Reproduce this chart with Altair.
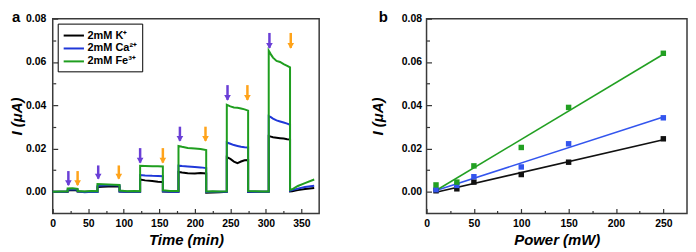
import altair as alt
import pandas as pd

FONT = "Liberation Sans"

# ---------------- Panel a : photocurrent vs time ----------------
time_min = [0, 10, 21, 21, 28, 35, 35, 45, 55, 63, 63, 70, 78, 86, 94, 94, 105, 115, 123,
            123, 130, 140, 148, 155, 155, 165, 177, 177, 182, 190, 200, 208, 216, 216, 225, 235, 245,
            245, 250, 255, 260, 265, 270, 275, 275, 285, 295, 304,
            304, 307, 310, 315, 320, 325, 330, 334, 334, 337, 345, 355, 368]
fe_a = [0.0000, 0.0002, 0.0003, 0.0016, 0.0017, 0.0014, 0.0004, 0.0002, 0.0004, 0.0003,
        0.0036, 0.0035, 0.0034, 0.0033, 0.0032, 0.0006, 0.0003, 0.0004, 0.0003,
        0.0120, 0.0119, 0.0118, 0.0118, 0.0117, 0.0007, 0.0004, 0.0004,
        0.0212, 0.0208, 0.0203, 0.0200, 0.0198, 0.0193, 0.0002, 0.0003, 0.0002, 0.0003,
        0.0402, 0.0395, 0.0390, 0.0388, 0.0385, 0.0381, 0.0375, 0.0004, 0.0003, 0.0002, 0.0002,
        0.0652, 0.0635, 0.0620, 0.0605, 0.0600, 0.0590, 0.0582, 0.0575, 0.0010, 0.0012, 0.0027, 0.0040, 0.0057]
ca_a = [0.0000, 0.0001, 0.0002, 0.0010, 0.0012, 0.0010, 0.0002, -0.0002, 0.0001, 0.0000,
        0.0028, 0.0029, 0.0030, 0.0030, 0.0029, 0.0002, 0.0001, 0.0001, 0.0001,
        0.0078, 0.0076, 0.0074, 0.0073, 0.0072, 0.0003, 0.0001, 0.0001,
        0.0121, 0.0119, 0.0117, 0.0115, 0.0113, 0.0110, -0.0001, 0.0000, 0.0000, 0.0000,
        0.0228, 0.0222, 0.0216, 0.0212, 0.0208, 0.0206, 0.0205, 0.0001, 0.0001, 0.0000, 0.0000,
        0.0350, 0.0345, 0.0338, 0.0330, 0.0325, 0.0320, 0.0315, 0.0310, 0.0005, 0.0008, 0.0015, 0.0022, 0.0028]
k_a = [0.0000, 0.0001, 0.0001, 0.0006, 0.0008, 0.0006, 0.0002, 0.0001, 0.0002, 0.0001,
       0.0022, 0.0024, 0.0025, 0.0026, 0.0025, 0.0002, 0.0001, 0.0001, 0.0001,
       0.0057, 0.0053, 0.0050, 0.0047, 0.0045, 0.0002, 0.0001, 0.0001,
       0.0092, 0.0089, 0.0086, 0.0085, 0.0087, 0.0085, -0.0004, -0.0003, -0.0002, 0.0000,
       0.0160, 0.0152, 0.0140, 0.0133, 0.0140, 0.0146, 0.0147, 0.0000, 0.0001, 0.0000, 0.0000,
       0.0258, 0.0255, 0.0252, 0.0250, 0.0248, 0.0246, 0.0243, 0.0242, 0.0002, 0.0003, 0.0008, 0.0013, 0.0018]
labels_a = ["2mM K⁺", "2mM Ca²⁺", "2mM Fe³⁺"]
colors_a = ["#000000", "#2038d8", "#1f9e1f"]

on_times = [22, 64, 123, 179, 246, 305]
off_times = [35, 93, 155, 215, 274, 335]
arrow_top = [0.0096, 0.0122, 0.0202, 0.0301, 0.0493, 0.0734]
arrow_tip = [0.0031, 0.0061, 0.0135, 0.0236, 0.0425, 0.0665]

# ---------------- Panel b : photocurrent vs power ----------------
power_mw = [10, 32, 50, 100, 150, 250]
k_b = [0.0005, 0.0014, 0.0045, 0.0080, 0.0137, 0.0245]
ca_b = [0.0010, 0.0030, 0.0070, 0.0115, 0.0222, 0.0342]
fe_b = [0.0032, 0.0045, 0.0120, 0.0205, 0.0390, 0.0640]
labels_b = ["2 mM K⁺", "2 mM Ca²⁺", "2 mM Fe³⁺"]
colors_b = ["#111111", "#3355ee", "#22a022"]

x_major_a = [0, 50, 100, 150, 200, 250, 300, 350]
x_minor_a = [25, 75, 125, 175, 225, 275, 325]
x_major_b = [0, 50, 100, 150, 200, 250]
x_minor_b = [25, 75, 125, 175, 225]
y_major = [0.0, 0.02, 0.04, 0.06, 0.08]
y_minor = [0.01, 0.03, 0.05, 0.07]

# ---------------- build tables ----------------
rows = []
for lab, vals in zip(labels_a, [k_a, ca_a, fe_a]):
    for i, (t, v) in enumerate(zip(time_min, vals)):
        rows.append({"i": i, "time": t, "I": v, "series": lab})
df_a = pd.DataFrame(rows)
df_on = pd.DataFrame({"time": on_times, "top": arrow_top, "tip": arrow_tip})
df_off = pd.DataFrame({"time": off_times, "top": arrow_top, "tip": arrow_tip})

rows = []
for lab, vals in zip(labels_b, [k_b, ca_b, fe_b]):
    for p, v in zip(power_mw, vals):
        rows.append({"power": p, "I": v, "series": lab})
df_b = pd.DataFrame(rows)

TICK = "#333333"


def major_axis(title, values, orient, fmt=None, pad=6, tpad=4):
    kw = dict(title=title, values=values, orient=orient, offset=-5, tickSize=5, tickColor=TICK,
              tickWidth=1.2, domain=False, grid=False, labelPadding=pad, labelFont=FONT,
              labelFontWeight="bold", labelFontSize=10.5, labelColor="black", titleFont=FONT,
              titleFontStyle="italic", titleFontWeight="bold", titleFontSize=15, titleColor="black",
              titlePadding=tpad, labelFlush=False, labelOverlap=False)
    if fmt:
        kw["format"] = fmt
    return alt.Axis(**kw)


def minor_axis(values, orient):
    return alt.Axis(values=values, offset=-3, tickSize=3, tickColor=TICK, tickWidth=1.2, labels=False,
                    domain=False, grid=False, title=None, orient=orient)


ya_scale = alt.Scale(domain=[-0.01, 0.08], nice=False, zero=False)
xa_scale = alt.Scale(domain=[0, 375], nice=False, zero=False)
xb_scale = alt.Scale(domain=[0, 275], nice=False, zero=False)

legend_a = alt.Legend(title=None, orient="top-left", offset=5, padding=5, strokeColor="black",
                      fillColor="white", symbolType="M-1,0L2.4,0", symbolSize=144,
                      symbolStrokeWidth=2, labelFont=FONT, labelFontWeight="bold", labelFontSize=11,
                      labelColor="black", rowPadding=1, labelOffset=11, cornerRadius=0)

lines_a = alt.Chart(df_a).mark_line(strokeWidth=2).encode(
    x=alt.X("time:Q", scale=xa_scale, axis=major_axis("Time (min)", x_major_a, "bottom", pad=5)),
    y=alt.Y("I:Q", scale=ya_scale, axis=major_axis("I (μA)", y_major, "left", fmt=".2f", pad=7, tpad=1)),
    color=alt.Color("series:N", scale=alt.Scale(domain=labels_a, range=colors_a), legend=legend_a),
    order="i:Q",
)

on_rule = alt.Chart(df_on).mark_rule(strokeWidth=2.5, color="#6a3fd6").encode(
    x=alt.X("time:Q", scale=xa_scale, axis=minor_axis(x_minor_a, "bottom")),
    y=alt.Y("top:Q", scale=ya_scale, axis=minor_axis(y_minor, "left")),
    y2="tip:Q",
)
on_head = alt.Chart(df_on).mark_point(shape="triangle-down", filled=True, size=45, opacity=1,
                                      color="#6a3fd6", yOffset=-2).encode(
    x=alt.X("time:Q", scale=xa_scale, axis=None),
    y=alt.Y("tip:Q", scale=ya_scale, axis=None),
)
off_rule = alt.Chart(df_off).mark_rule(strokeWidth=2.5, color="#ffa31a").encode(
    x=alt.X("time:Q", scale=xa_scale, axis=None),
    y=alt.Y("top:Q", scale=ya_scale, axis=None),
    y2="tip:Q",
)
off_head = alt.Chart(df_off).mark_point(shape="triangle-down", filled=True, size=45, opacity=1,
                                        color="#ffa31a", yOffset=-2).encode(
    x=alt.X("time:Q", scale=xa_scale, axis=None),
    y=alt.Y("tip:Q", scale=ya_scale, axis=None),
)
letter_a = alt.Chart(pd.DataFrame({"t": ["a"]})).mark_text(
    font=FONT, fontSize=15, fontWeight="bold", align="left", baseline="top", color="black"
).encode(text="t:N", x=alt.value(-41), y=alt.value(-9))

panel_a = alt.layer(lines_a, on_rule, on_head, off_rule, off_head, letter_a).resolve_axis(
    x="independent", y="independent").properties(width=268, height=196)

# panel b
legend_b = alt.Legend(title=None, orient="top-left", offset=8, padding=5, strokeColor="black",
                      fillColor="white", symbolType="square", symbolSize=30, symbolStrokeWidth=0,
                      symbolOffset=3, labelFont=FONT, labelFontWeight="bold", labelFontSize=11,
                      labelColor="black", rowPadding=1, labelOffset=3, cornerRadius=0)
color_b = alt.Scale(domain=labels_b, range=colors_b)

fit_b = alt.Chart(df_b).transform_regression("power", "I", groupby=["series"]).mark_line(
    strokeWidth=1.6).encode(
    x=alt.X("power:Q", scale=xb_scale, axis=minor_axis(x_minor_b, "bottom")),
    y=alt.Y("I:Q", scale=ya_scale, axis=minor_axis(y_minor, "left")),
    color=alt.Color("series:N", scale=color_b, legend=None),
)
pts_b = alt.Chart(df_b).mark_square(size=30, opacity=1).encode(
    x=alt.X("power:Q", scale=xb_scale, axis=major_axis("Power (mW)", x_major_b, "bottom", pad=5)),
    y=alt.Y("I:Q", scale=ya_scale, axis=major_axis("I (μA)", y_major, "left", fmt=".2f", pad=5, tpad=16)),
    color=alt.Color("series:N", scale=color_b, legend=legend_b),
)
letter_b = alt.Chart(pd.DataFrame({"t": ["b"]})).mark_text(
    font=FONT, fontSize=15, fontWeight="bold", align="left", baseline="top", color="black"
).encode(text="t:N", x=alt.value(-48), y=alt.value(-9))

panel_b = alt.layer(fit_b, pts_b, letter_b).resolve_axis(
    x="independent", y="independent").properties(width=262, height=196)

chart = alt.hconcat(panel_a, panel_b, spacing=49).resolve_scale(
    color="independent", x="independent", y="independent"
).resolve_legend(color="independent").properties(
    padding={"left": 0, "top": 0, "right": 0, "bottom": 0}
).configure_view(stroke="#3a3a3a", strokeWidth=1.5)

chart.save("out.html", embed_options={"renderer": "svg", "actions": False})
